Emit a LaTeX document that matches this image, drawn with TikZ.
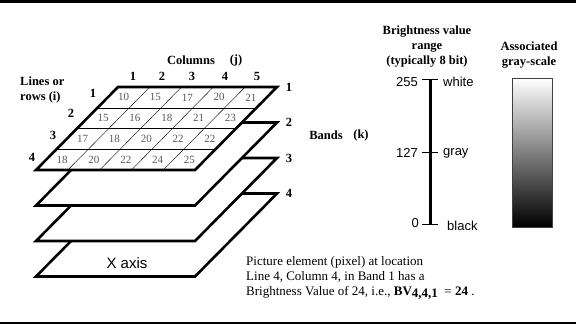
\documentclass[tikz,border=0pt]{standalone}
\usepackage{fontspec}
\setmainfont{Liberation Serif}
\setsansfont{Liberation Sans}
\usetikzlibrary{calc}
\tikzset{
  capa/.style={draw, fill=white, line width=2.6pt, line join=miter},
  rotulo/.style={font=\bfseries\fontsize{12.5}{15}\selectfont, inner sep=0pt},
  valor/.style={font=\fontsize{11}{12}\selectfont, text=black!65, inner sep=0pt},
  escala/.style={font=\sffamily\fontsize{13}{14}\selectfont, inner sep=0pt},
}
\begin{document}
\begin{tikzpicture}[x=1pt,y=-1pt]
  \useasboundingbox (0,0) rectangle (576,324);
  % Bordes
  \fill (0,0) rectangle (576,2.5);
  \fill (0,321.5) rectangle (576,324);

  % Bandas de abajo hacia arriba
  \foreach \k in {3,2,1,0}
    \draw[capa] (118,{87+35.5*\k}) -- (277,{87+35.5*\k}) -- (195,{170+35.5*\k}) -- (36,{170+35.5*\k}) -- cycle;

  % Esquinas de la banda 1
  \coordinate (TL) at (118,87);
  \coordinate (TR) at (277,87);
  \coordinate (BR) at (195,170);
  \coordinate (BL) at (36,170);

  % Rejilla de pixeles
  \foreach \v in {0.25,0.5,0.75}
    \draw ($(TL)!\v!(BL)$) -- ($(TR)!\v!(BR)$);
  \foreach \u in {0.2,0.4,0.6,0.8}
    \draw ($(TL)!\u!(TR)$) -- ($(BL)!\u!(BR)$);

  % Valores de brillo
  \foreach \val [count=\n from 0] in {10,15,17,20,21,15,16,18,21,23,17,18,20,22,22,18,20,22,24,25} {
    \pgfmathtruncatemacro\fila{div(\n,5)}
    \pgfmathtruncatemacro\col{mod(\n,5)}
    \node[valor] (bv-\fila-\col) at ({118+159*(\col+0.5)/5-82*(\fila+0.5)/4},{87+83*(\fila+0.5)/4}) {\val};
  }

  % Columnas
  \foreach \j/\x in {1/133,2/162,3/192,4/225,5/257}
    \node[rotulo] (col-\j) at (\x,76) {\j};
  \node[rotulo] (columnas) at (191,60) {Columns};
  \node[rotulo] (jota) at (236,60) {(j)};

  % Filas
  \node[rotulo, align=left, anchor=west] (filas) at (20,90) {Lines or\\rows (i)};
  \foreach \i/\x/\y in {1/93/93,2/71/113,3/53/135,4/32/157}
    \node[rotulo] (fila-\i) at (\x,\y) {\i};

  % Bandas
  \foreach \k in {1,...,4}
    \node[rotulo] (banda-\k) at (289,{87+35.5*(\k-1)}) {\k};
  \node[rotulo] (bandas) at (326,135) {Bands};
  \node[rotulo] (ka) at (361,135) {(k)};

  % Eje X
  \node[font=\sffamily\fontsize{15}{16}\selectfont] (eje) at (127,263) {X axis};

  % Escala de brillo
  \coordinate (b255) at (430,79);
  \coordinate (b127) at (430,152);
  \coordinate (b0) at (430,224);
  \draw[line width=3pt] (b255) -- (b0);
  \foreach \p in {b255,b127,b0}
    \draw[line width=1pt] ([xshift=-8pt]\p) -- ([xshift=8pt]\p);
  \node[escala, anchor=east] (n255) at (418,82) {255};
  \node[escala, anchor=east] (n127) at (418,153) {127};
  \node[escala, anchor=east] (n0) at (419,223) {0};
  \node[escala, anchor=west] (blanco) at (443,82) {white};
  \node[escala, anchor=west] (gris) at (443,153) {gray};
  \node[escala, anchor=west] (negro) at (447,226) {black};
  \node[rotulo, align=center] (titulo) at (427,47) {Brightness value\\range\\(typically 8 bit)};

  % Escala de grises
  \node[rotulo, align=center] (asociado) at (529,55.5) {Associated\\gray-scale};
  \shade[top color=white, bottom color=black] (512,78) rectangle (552,227);
  \draw[black!75, line width=1pt] (512,78) rectangle (552,227);

  % Ejemplo de pixel
  \node[anchor=west, align=left, font=\fontsize{13}{15}\selectfont, inner sep=0pt] (pixel) at (246,278)
    {Picture element (pixel) at location\\Line 4, Column 4, in Band 1 has a\\Brightness Value of 24, i.e., \textbf{BV}\raisebox{-0.5ex}{\textbf{4,4,1}}\ \ = \textbf{24} .};
\end{tikzpicture}
\end{document}
